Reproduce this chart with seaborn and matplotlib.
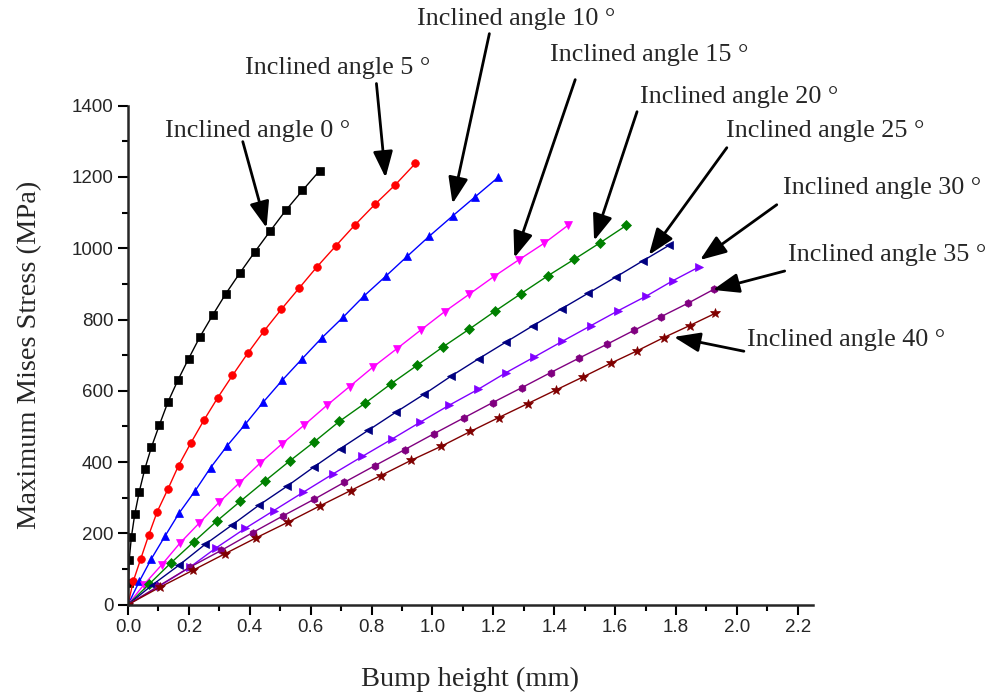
import numpy as np
import pandas as pd
import matplotlib
matplotlib.use('Agg')
import matplotlib.pyplot as plt
from matplotlib.ticker import MultipleLocator
import seaborn as sns

# Dados: altura do ressalto (mm) e tensão de Mises (MPa)
angles = [0, 5, 10, 15, 20, 25, 30, 35, 40]

h_0 = [0, 0.002, 0.004, 0.011, 0.022, 0.037, 0.055, 0.077, 0.103, 0.131, 0.164,
       0.199, 0.236, 0.278, 0.321, 0.367, 0.416, 0.466, 0.518, 0.573, 0.630]
s_0 = [0, 62, 126, 189, 253, 317, 380, 442, 504, 568, 630,
       690, 751, 812, 872, 930, 989, 1047, 1106, 1162, 1218]

h_5 = [0, 0.017, 0.042, 0.068, 0.096, 0.131, 0.166, 0.206, 0.249, 0.295, 0.343,
       0.393, 0.447, 0.504, 0.562, 0.621, 0.682, 0.745, 0.811, 0.878, 0.944]
s_5 = [0, 65, 129, 195, 261, 324, 390, 453, 517, 581, 643,
       705, 768, 829, 888, 948, 1006, 1065, 1123, 1178, 1238]

h_10 = [0, 0.037, 0.077, 0.122, 0.168, 0.221, 0.271, 0.326, 0.385, 0.444, 0.507,
        0.570, 0.636, 0.706, 0.774, 0.846, 0.918, 0.990, 1.067, 1.140, 1.216]
s_10 = [0, 65, 129, 193, 257, 320, 384, 446, 506, 568, 630,
        688, 748, 806, 865, 921, 978, 1034, 1091, 1144, 1199]

h_15 = [0, 0.052, 0.111, 0.170, 0.234, 0.299, 0.365, 0.435, 0.507, 0.579, 0.653,
        0.728, 0.804, 0.883, 0.961, 1.040, 1.121, 1.201, 1.283, 1.367, 1.445]
s_15 = [0, 56, 112, 172, 229, 287, 341, 398, 452, 504, 559,
        612, 666, 718, 770, 822, 871, 920, 967, 1014, 1064]

h_20 = [0, 0.070, 0.142, 0.216, 0.291, 0.369, 0.450, 0.531, 0.612, 0.694, 0.780,
        0.863, 0.949, 1.036, 1.121, 1.205, 1.290, 1.378, 1.466, 1.552, 1.637]
s_20 = [0, 58, 118, 176, 234, 290, 347, 403, 457, 514, 566,
        619, 671, 724, 773, 823, 872, 922, 969, 1016, 1064]

h_25 = [0, 0.081, 0.168, 0.253, 0.341, 0.430, 0.522, 0.610, 0.698, 0.789, 0.880,
        0.972, 1.061, 1.152, 1.242, 1.331, 1.424, 1.512, 1.602, 1.690, 1.777]
s_25 = [0, 56, 111, 169, 223, 279, 332, 386, 438, 489, 540,
        590, 641, 690, 737, 783, 830, 874, 919, 964, 1008]

h_30 = [0, 0.105, 0.203, 0.289, 0.385, 0.479, 0.575, 0.672, 0.770, 0.866, 0.960,
        1.054, 1.150, 1.242, 1.335, 1.427, 1.521, 1.611, 1.703, 1.790, 1.877]
s_30 = [0, 53, 105, 159, 214, 264, 315, 366, 416, 464, 512,
        559, 604, 651, 695, 739, 783, 825, 866, 909, 948]

h_35 = [0, 0.100, 0.203, 0.306, 0.409, 0.509, 0.612, 0.710, 0.811, 0.909, 1.006,
        1.103, 1.198, 1.294, 1.388, 1.480, 1.572, 1.663, 1.751, 1.840, 1.925]
s_35 = [0, 52, 105, 152, 202, 249, 296, 343, 390, 435, 480,
        524, 567, 609, 651, 691, 730, 770, 808, 846, 885]

h_40 = [0, 0.105, 0.212, 0.319, 0.422, 0.527, 0.630, 0.731, 0.830, 0.930, 1.028,
        1.125, 1.218, 1.313, 1.405, 1.495, 1.585, 1.672, 1.759, 1.845, 1.928]
s_40 = [0, 49, 96, 143, 188, 232, 277, 320, 362, 405, 444,
        486, 525, 564, 602, 639, 677, 712, 749, 783, 817]

heights = [h_0, h_5, h_10, h_15, h_20, h_25, h_30, h_35, h_40]
stresses = [s_0, s_5, s_10, s_15, s_20, s_25, s_30, s_35, s_40]

colors = ['#000000', '#FF0000', '#0000FF', '#FF00FF', '#008000',
          '#000080', '#8000FF', '#800080', '#800000']
markers = ['s', 'o', '^', 'v', 'D', '<', '>', 'h', '*']

# Rótulos e setas: posição do texto, início da seta e ponta da seta (coordenadas de dados)
label_pos = [(0.121, 1330), (0.384, 1507), (0.948, 1642), (1.387, 1541), (1.682, 1425),
             (1.964, 1330), (2.151, 1170), (2.167, 981), (2.033, 742)]
arrow_start = [(0.377, 1299), (0.816, 1462), (1.187, 1602), (1.469, 1473), (1.672, 1383),
               (1.967, 1282), (2.131, 1122), (2.157, 936), (2.023, 711)]
arrow_tip = [(0.455, 1057), (0.846, 1198), (1.066, 1125), (1.269, 973), (1.531, 1021),
             (1.711, 981), (1.879, 967), (1.921, 883), (1.793, 751)]

# Montagem do DataFrame
frames = []
for ang, h, s in zip(angles, heights, stresses):
    frames.append(pd.DataFrame({'h': h, 's': s, 'angle': str(ang)}))
df = pd.concat(frames, ignore_index=True)

sns.set_style('ticks')
plt.rcParams['font.family'] = ['Liberation Sans', 'DejaVu Sans']

fig = plt.figure(figsize=(9.9, 6.95), dpi=100)
ax = fig.add_axes([0.1293, 0.1300, 0.6919, 0.7180])

hue_order = [str(a) for a in angles]
sns.lineplot(data=df, x='h', y='s', hue='angle', style='angle', hue_order=hue_order,
             style_order=hue_order, palette=colors, markers=markers, dashes=False,
             sort=False, estimator=None, legend=False, linewidth=1, markersize=5.5, ax=ax)
for line in ax.lines:
    line.set_markeredgecolor(line.get_color())
    line.set_markeredgewidth(0.5)
    if line.get_marker() == '*':
        line.set_markersize(7)

ax.set_xlim(0, 2.25)
ax.set_ylim(0, 1400)
ax.xaxis.set_major_locator(MultipleLocator(0.2))
ax.xaxis.set_minor_locator(MultipleLocator(0.1))
ax.yaxis.set_major_locator(MultipleLocator(200))
ax.yaxis.set_minor_locator(MultipleLocator(100))
ax.set_xticks(np.arange(0, 2.21, 0.2))
ax.set_xticklabels([f'{v:.1f}' for v in np.arange(0, 2.21, 0.2)])
sns.despine(ax=ax)
for sp in ['left', 'bottom']:
    ax.spines[sp].set_linewidth(1.8)
ax.tick_params(which='major', length=7, width=1.5, labelsize=13.5, direction='out', color='k')
ax.tick_params(which='minor', length=4.5, width=1.5, direction='out', color='k')

ax.set_xlabel('Bump height (mm)', fontfamily='Liberation Serif', fontsize=20.5, labelpad=22)
ax.set_ylabel('Maximum Mises Stress (MPa)', fontfamily='Liberation Serif', fontsize=20.5, labelpad=21)

for ang, pos, st, tip in zip(angles, label_pos, arrow_start, arrow_tip):
    ax.text(pos[0], pos[1], f'Inclined angle {ang} °', fontfamily='Liberation Serif',
            fontsize=18.8, ha='left', va='center', clip_on=False)
    ax.annotate('', xy=tip, xytext=st, annotation_clip=False,
                arrowprops=dict(arrowstyle='-|>,head_length=0.8,head_width=0.3',
                                mutation_scale=20, lw=2, color='k', shrinkA=0, shrinkB=0))

fig.savefig('out.png', dpi=100)
